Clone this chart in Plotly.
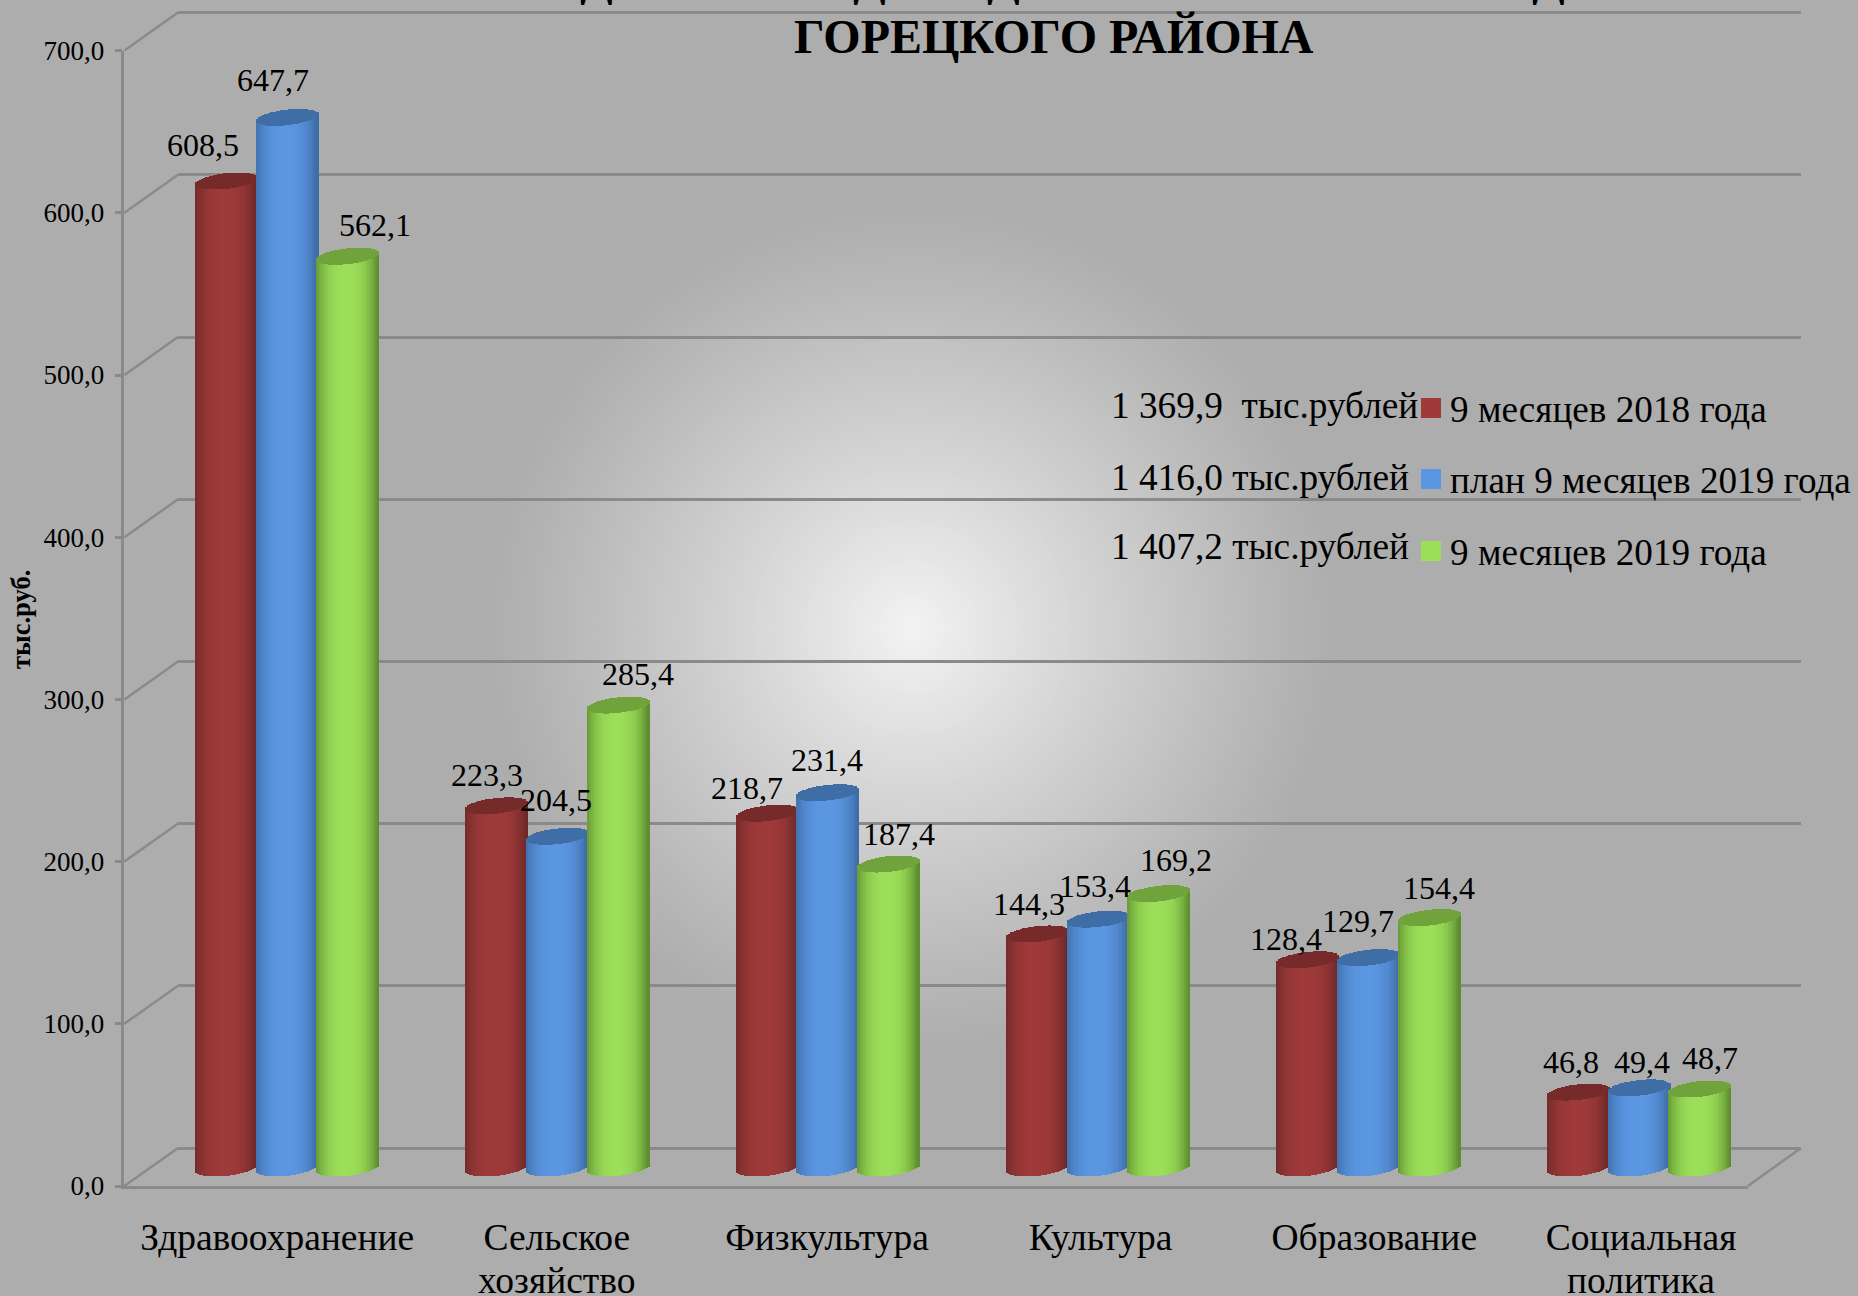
import math
import plotly.graph_objects as go

W, H = 1858, 1296

categories = ["Здравоохранение", "Сельское", "Физкультура", "Культура", "Образование", "Социальная"]
category_second_lines = ["", "хозяйство", "", "", "", "политика"]
series_names = ["9 месяцев 2018 года", "план 9 месяцев 2019 года", "9 месяцев 2019 года"]
series_totals = ["1 369,9  тыс.рублей", "1 416,0 тыс.рублей", "1 407,2 тыс.рублей"]
values_2018 = [608.5, 223.3, 218.7, 144.3, 128.4, 46.8]
values_plan = [647.7, 204.5, 231.4, 153.4, 129.7, 49.4]
values_2019 = [562.1, 285.4, 187.4, 169.2, 154.4, 48.7]
y_ticks = [0, 100, 200, 300, 400, 500, 600, 700]
y_tick_labels = ["0,0", "100,0", "200,0", "300,0", "400,0", "500,0", "600,0", "700,0"]

# label nudges (px, relative to the top of each cylinder)
label_dx = [[-23.7, -9.7, -20.5, -8.9, -22.2, -7.0], [-14.4, -1.6, -0.7, -3.2, -10.6, 3.4], [26.8, 19.4, 10.9, 16.6, 9.3, 10.3]]
label_dy = [[36.4, 30.8, 25.3, 29.7, 21.2, 30.3], [37.8, 36.3, 33.1, 32.8, 36.9, 26.1], [31.1, 30.8, 29.8, 33.3, 30.0, 30.8]]
category_tick_pos = [-0.036, 0.998, 1.997, 3.009, 4.021, 5.008]

BG = "#adadad"
FONT = "Liberation Serif"
GRID = "#8a8a8a"
GW = 2.5

# geometry of the pseudo-3D frame, px
PX_PER_UNIT = 1.622
FRONT_Y0, BACK_Y0, BAR_Y0 = 1186, 1148, 1168
FRONT_X0, FRONT_X1, BACK_X0, BACK_X1 = 124.4, 1748, 178, 1801
GROUP_X0, GROUP_STEP, BAR_STEP, BAR_W = 287, 270.4, 60.7, 62.5
CAP_E, CAP_TILT = 7.8, 3.3
N_STRIPS = 31
BACK_PAD = 5  # data units kept around the back wall so its first and last grid lines are drawn

PALETTE = [
    {"edge": (108, 40, 40), "mid": (158, 58, 57), "cap": (118, 42, 41)},
    {"edge": (62, 108, 165), "mid": (91, 150, 226), "cap": (63, 110, 166)},
    {"edge": (94, 142, 48), "mid": (155, 222, 88), "cap": (112, 163, 60)},
]


def px_to_x(px):
    return (px - GROUP_X0) / GROUP_STEP


def px_to_paper_y(px):
    return 1 - px / H


def mix(a, b, f):
    return "rgb(%d,%d,%d)" % tuple(round(a[i] + (b[i] - a[i]) * f) for i in range(3))


fig = go.Figure()

# back wall subplot (x, y) and front axes subplot (x2, y2)
fig.add_trace(go.Scatter(x=[None], y=[None], xaxis="x", yaxis="y", showlegend=False, hoverinfo="skip"))
fig.add_trace(go.Scatter(x=[None], y=[None], xaxis="x2", yaxis="y2", showlegend=False, hoverinfo="skip"))

# cylinders: each bar is built of narrow strips so that it has shading and elliptical ends
all_values = [values_2018, values_plan, values_2019]
bar_w_u = BAR_W / GROUP_STEP
strip_u = bar_w_u / N_STRIPS
e_u, tilt_u = CAP_E / PX_PER_UNIT, CAP_TILT / PX_PER_UNIT
for s, vals in enumerate(all_values):
    bx, bh, bb, bc, cx, ch, cb = [], [], [], [], [], [], []
    for g, v in enumerate(vals):
        centre = g + (s - 1) * BAR_STEP / GROUP_STEP
        for k in range(N_STRIPS):
            t = -1 + (2 * k + 1) / N_STRIPS
            half = math.sqrt(max(0, 1 - t * t))
            sx = centre + t * bar_w_u / 2
            bottom = tilt_u * t - e_u * half
            top = v + tilt_u * t
            f = 1 - abs(t + 0.05) ** 2.6
            bx.append(sx)
            bb.append(bottom)
            bh.append(top - bottom)
            bc.append(mix(PALETTE[s]["edge"], PALETTE[s]["mid"], max(0, f)))
            cx.append(sx)
            cb.append(top - e_u * half)
            ch.append(2 * e_u * half)
    fig.add_trace(go.Bar(x=bx, y=bh, base=bb, width=strip_u * 1.25, marker=dict(color=bc, line=dict(width=0)),
                         xaxis="x3", yaxis="y3", showlegend=False, hoverinfo="skip", name=series_names[s]))
    fig.add_trace(go.Bar(x=cx, y=ch, base=cb, width=strip_u * 1.25,
                         marker=dict(color=mix(PALETTE[s]["cap"], PALETTE[s]["cap"], 0), line=dict(width=0)),
                         xaxis="x3", yaxis="y3", showlegend=False, hoverinfo="skip"))

shapes = []
# radial glow
R_MAX, CX, CY = 430, 912, 628
N_RINGS = 140
for i in range(N_RINGS):
    r = R_MAX * (1 - i / N_RINGS)
    g = 173 + (243 - 173) * (1 - r / R_MAX) ** 1.1
    shapes.append(dict(type="circle", xref="paper", yref="paper", layer="below",
                       x0=(CX - r) / W, x1=(CX + r) / W, y0=px_to_paper_y(CY + r), y1=px_to_paper_y(CY - r),
                       fillcolor="rgb(%d,%d,%d)" % (round(g), round(g), round(g)), line=dict(width=0)))


def frame_line(x0, y0, x1, y1):
    shapes.append(dict(type="line", xref="paper", yref="paper", layer="below",
                       x0=x0 / W, x1=x1 / W, y0=px_to_paper_y(y0), y1=px_to_paper_y(y1),
                       line=dict(color=GRID, width=GW)))


for v in y_ticks:
    frame_line(FRONT_X0, FRONT_Y0 - v * PX_PER_UNIT, BACK_X0, BACK_Y0 - v * PX_PER_UNIT)
frame_line(FRONT_X1, FRONT_Y0, BACK_X1, BACK_Y0)

annotations = []
# data labels
for s, vals in enumerate(all_values):
    for g, v in enumerate(vals):
        annotations.append(dict(x=g + (s - 1) * BAR_STEP / GROUP_STEP, y=v, xref="x3", yref="y3",
                                text=f"{v:.1f}".replace(".", ","), showarrow=False,
                                xanchor="center", yanchor="middle",
                                xshift=label_dx[s][g], yshift=label_dy[s][g],
                                font=dict(family=FONT, size=32, color="#000")))

# second lines of the category labels
for g, line in enumerate(category_second_lines):
    if line:
        annotations.append(dict(x=category_tick_pos[g], y=px_to_paper_y(1280), xref="x3", yref="paper", showarrow=False,
                                xanchor="center", yanchor="middle", text=line,
                                font=dict(family=FONT, size=37.5, color="#000")))

# legend block
legend_y = [409, 480, 552]
total_y = [406, 478, 546]
square_y = [408, 479, 551]
for i in range(3):
    annotations.append(dict(x=1108.5 / W, y=px_to_paper_y(total_y[i]), xref="paper", yref="paper",
                            xanchor="left", yanchor="middle", showarrow=False, text=series_totals[i].replace("  ", "&nbsp;&nbsp;"),
                            font=dict(family=FONT, size=37.3, color="#000")))
    annotations.append(dict(x=1447.5 / W, y=px_to_paper_y(legend_y[i]), xref="paper", yref="paper",
                            xanchor="left", yanchor="middle", showarrow=False, text=series_names[i],
                            font=dict(family=FONT, size=37.2, color="#000")))
    shapes.append(dict(type="rect", xref="paper", yref="paper", layer="above",
                       x0=1421 / W, x1=1441 / W, y0=px_to_paper_y(square_y[i] + 10), y1=px_to_paper_y(square_y[i] - 10),
                       fillcolor=mix(PALETTE[i]["mid"], PALETTE[i]["mid"], 0), line=dict(width=0)))

# title and the clipped line above it
annotations.append(dict(x=1054 / W, y=px_to_paper_y(37), xref="paper", yref="paper", showarrow=False,
                        xanchor="center", yanchor="middle",
                        text="<b>ГОРЕЦКОГО РАЙОНА</b>", font=dict(family=FONT, size=48, color="#000")))
for cx_px in [596, 869, 1003, 1548]:
    annotations.append(dict(x=cx_px / W, y=px_to_paper_y(-22), xref="paper", yref="paper", showarrow=False,
                            xanchor="center", yanchor="middle",
                            text="<b>Д</b>", font=dict(family=FONT, size=48, color="#000")))
# axis title
annotations.append(dict(x=21 / W, y=px_to_paper_y(620), xref="paper", yref="paper", showarrow=False,
                        xanchor="center", yanchor="middle",
                        textangle=-90, text="<b>тыс.руб.</b>", font=dict(family=FONT, size=26.5, color="#000")))

fig.update_layout(
    width=W, height=H, autosize=False,
    margin=dict(l=0, r=0, t=0, b=0, pad=0, autoexpand=False),
    paper_bgcolor=BG, plot_bgcolor="rgba(0,0,0,0)",
    barmode="overlay", bargap=0, showlegend=False,
    shapes=shapes, annotations=annotations,
    font=dict(family=FONT, color="#000"),
    # back wall
    xaxis=dict(domain=[BACK_X0 / W, BACK_X1 / W], range=[px_to_x(BACK_X0), px_to_x(BACK_X1)], visible=False, fixedrange=True),
    yaxis=dict(domain=[px_to_paper_y(BACK_Y0 + BACK_PAD * PX_PER_UNIT), px_to_paper_y(BACK_Y0 - (700 + BACK_PAD) * PX_PER_UNIT)],
               range=[-BACK_PAD, 700 + BACK_PAD],
               tickmode="array", tickvals=y_ticks, showgrid=True, gridcolor=GRID, gridwidth=GW, zeroline=False,
               showticklabels=False, ticks="", showline=False, anchor="x", fixedrange=True),
    # front axes
    xaxis2=dict(domain=[FRONT_X0 / W, FRONT_X1 / W], range=[px_to_x(FRONT_X0), px_to_x(FRONT_X1)],
                tickmode="array", tickvals=category_tick_pos, ticktext=categories, tickangle=0,
                tickfont=dict(family=FONT, size=37.5, color="#000"), ticks="", ticklabelstandoff=16,
                showgrid=False, zeroline=False, showline=True, linecolor=GRID, linewidth=GW,
                anchor="y2", fixedrange=True),
    yaxis2=dict(domain=[px_to_paper_y(FRONT_Y0), px_to_paper_y(FRONT_Y0 - 700 * PX_PER_UNIT)], range=[0, 700],
                tickmode="array", tickvals=y_ticks, ticktext=y_tick_labels,
                tickfont=dict(family=FONT, size=27, color="#000"),
                ticks="outside", ticklen=7, tickcolor=GRID, tickwidth=GW, ticklabelstandoff=5,
                showgrid=False, zeroline=False, showline=True, linecolor=GRID, linewidth=GW,
                anchor="x2", fixedrange=True),
    # cylinders
    xaxis3=dict(domain=[0, 1], range=[px_to_x(0), px_to_x(W)], visible=False, fixedrange=True),
    yaxis3=dict(domain=[0, 1], range=[(BAR_Y0 - H) / PX_PER_UNIT, BAR_Y0 / PX_PER_UNIT], visible=False,
                anchor="x3", fixedrange=True),
)

fig.write_html("out.html", config={"displayModeBar": False},
               post_script="document.body.style.margin='0';document.body.style.overflow='hidden';")
